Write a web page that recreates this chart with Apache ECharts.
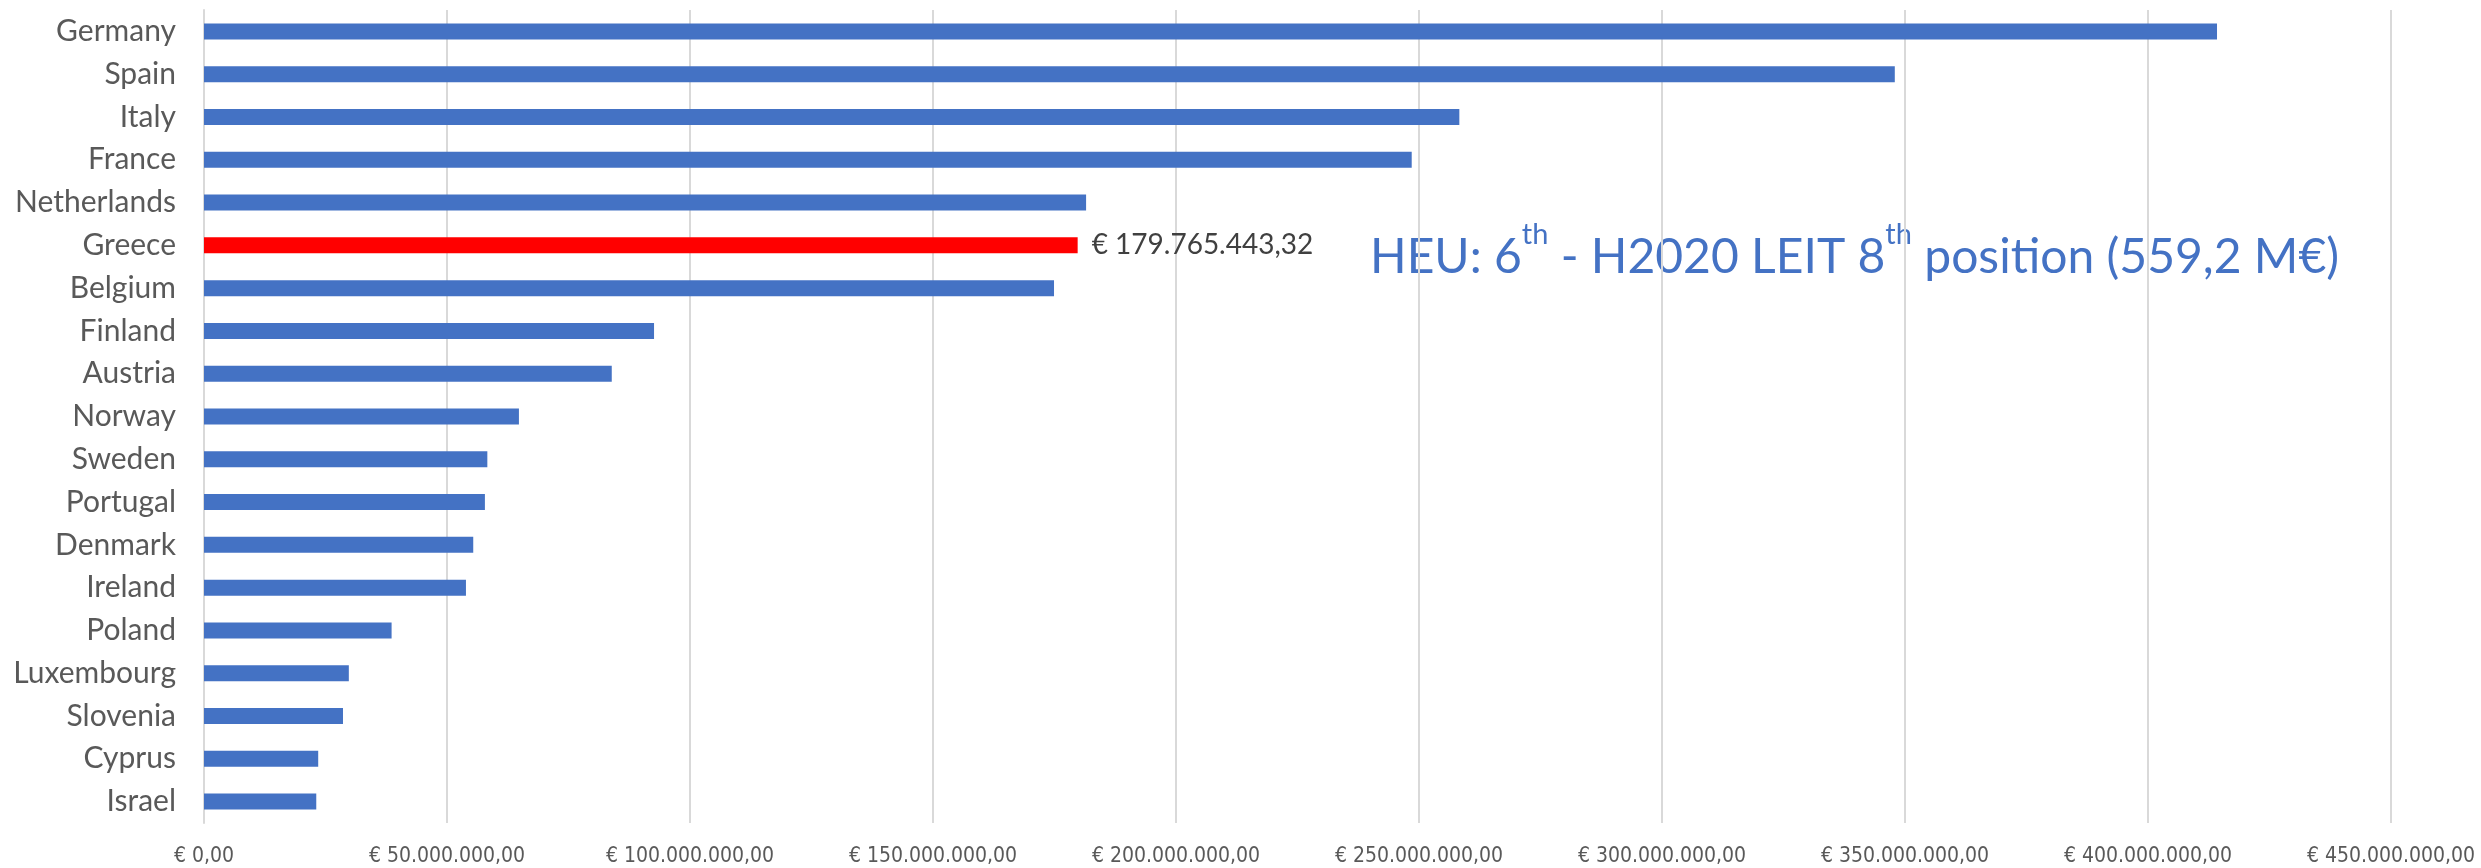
<!DOCTYPE html>
<html>
<head>
<meta charset="utf-8">
<script src="https://cdn.jsdelivr.net/npm/echarts@6/dist/echarts.min.js"></script>
<style>
  html,body{margin:0;padding:0;background:#fff;}
  #chart{width:2481px;height:868px;}
</style>
</head>
<body>
<div id="chart"></div>
<script>
// countries, top to bottom
var countries = ['Germany', 'Spain', 'Italy', 'France', 'Netherlands', 'Greece', 'Belgium', 'Finland', 'Austria',
  'Norway', 'Sweden', 'Portugal', 'Denmark', 'Ireland', 'Poland', 'Luxembourg', 'Slovenia', 'Cyprus', 'Israel'];
// funding in euro (Greece is labelled)
var funding = [414200000, 347900000, 258300000, 248500000, 181500000, 179765443.32, 174900000, 92600000, 83900000,
  64800000, 58300000, 57800000, 55400000, 53900000, 38600000, 29800000, 28600000, 23500000, 23100000];
var highlight = 'Greece';
var annotation = ['HEU: 6', 'th', ' - H2020 LEIT 8', 'th', ' position (559,2 M€)'];

function euro(v) {
  var parts = v.toFixed(2).split('.');
  var intPart = parts[0].replace(/\B(?=(\d{3})+(?!\d))/g, '.');
  return '€ ' + intPart + ',' + parts[1];
}

var barData = funding.map(function (v, i) {
  var item = { value: v };
  if (countries[i] === highlight) {
    item.itemStyle = { color: '#FF0000' };
    item.label = {
      show: true,
      position: 'right',
      distance: 14,
      color: '#404040',
      fontSize: 28,
      fontFamily: 'Lato',
      formatter: function (p) { return euro(p.value); }
    };
  }
  return item;
});

var myChart = echarts.init(document.getElementById('chart'));
myChart.setOption({
  animation: false,
  grid: { left: 204, right: 90, top: 10, bottom: 45 },
  xAxis: {
    type: 'value',
    min: 0,
    max: 450000000,
    interval: 50000000,
    axisLine: { show: false },
    axisTick: { show: false },
    splitLine: { lineStyle: { color: '#D9D9D9', width: 2 } },
    axisLabel: {
      color: '#595959',
      fontSize: 21,
      fontFamily: 'Liberation Sans Narrow, DejaVu Sans Condensed, sans-serif',
      margin: 23,
      formatter: function (v) { return euro(v); }
    }
  },
  yAxis: {
    type: 'category',
    inverse: true,
    data: countries,
    axisLine: { lineStyle: { color: '#D9D9D9', width: 2 } },
    axisTick: { show: false },
    axisLabel: {
      color: '#595959',
      fontSize: 30,
      fontFamily: 'Lato',
      margin: 28
    }
  },
  series: [{
    type: 'bar',
    data: barData,
    barWidth: 16,
    itemStyle: { color: '#4472C4' }
  }],
  graphic: [{
    type: 'text',
    left: 1370,
    top: 220,
    style: {
      text: '{a|' + annotation[0] + '}{s|' + annotation[1] + '}{a|' + annotation[2] + '}{s|' + annotation[3] + '}{a|' + annotation[4] + '}',
      rich: {
        a: { fontSize: 48, fontFamily: 'Lato', fill: '#4472C4', lineHeight: 62, verticalAlign: 'bottom' },
        s: { fontSize: 29, fontFamily: 'Lato', fill: '#4472C4', lineHeight: 62, verticalAlign: 'top' }
      }
    }
  }]
});
</script>
</body>
</html>
